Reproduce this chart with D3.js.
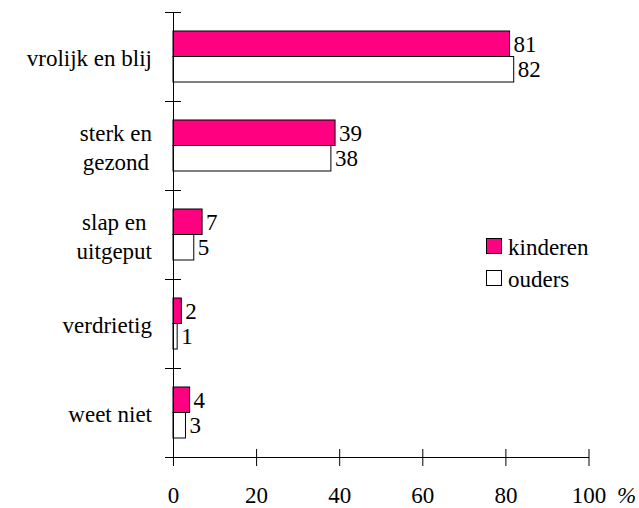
<!DOCTYPE html>
<html>
<head>
<meta charset="utf-8">
<script src="https://cdn.jsdelivr.net/npm/d3@7"></script>
<style>
  body { margin: 0; background: #fff; }
</style>
</head>
<body>
<div id="chart"></div>
<script>
let categories = ["vrolijk en blij", "sterk en\ngezond", "slap en\nuitgeput", "verdrietig", "weet niet"];
let series = ["kinderen", "ouders"];
let kinderen = [81, 39, 7, 2, 4];
let ouders = [82, 38, 5, 1, 3];
let xTicks = [0, 20, 40, 60, 80, 100];

let colors = { kinderen: "#ff0080", ouders: "#ffffff" };

let width = 639;
let height = 508;
let fontSize = 23;

// pick an installed serif face (measure against monospace fallback)
let candidates = ["Liberation Serif", "DejaVu Serif", "Noto Serif", "Times New Roman", "Tinos", "FreeSerif", "Nimbus Roman", "Times"];
let probe = document.createElement("canvas").getContext("2d");
function w(f) { probe.font = "40px " + f; return probe.measureText("vrolijk en blij 0123").width; }
let base = w("monospace");
let found = candidates.find((c) => w("'" + c + "', monospace") !== base);
let serif = found ? "'" + found + "', serif" : "serif";

let svg = d3.select("#chart").append("svg")
  .attr("width", width)
  .attr("height", height)
  .attr("font-family", serif);

let x = d3.scaleLinear().domain([0, 100]).range([173, 588.5]);

let y = d3.scaleBand().domain(categories).range([12, 457]).padding(0);

// two bars inside each band
let sub = d3.scaleBand().domain(series).range([0, y.bandwidth()])
  .paddingInner(0).paddingOuter(0.745);

let rows = categories.map((c, i) => ({ cat: c, kinderen: kinderen[i], ouders: ouders[i] }));

let g = svg.append("g");

rows.forEach((r) => {
  series.forEach((s) => {
    g.append("rect")
      .attr("x", x(0))
      .attr("y", y(r.cat) + sub(s))
      .attr("width", x(r[s]) - x(0))
      .attr("height", sub.bandwidth())
      .attr("fill", colors[s])
      .attr("stroke", "#000")
      .attr("stroke-width", 1);

    g.append("text")
      .attr("x", x(r[s]) + 4)
      .attr("y", y(r.cat) + sub(s) + sub.bandwidth() / 2 + 7.8)
      .attr("font-size", fontSize)
      .attr("font-family", serif)
      .text(r[s]);
  });
});

// y axis: ticks at band boundaries, crossing the line
let yIdx = d3.scaleLinear().domain([0, categories.length]).range(y.range());
let yAxis = svg.append("g")
  .attr("transform", "translate(" + x(0) + ",0)")
  .call(d3.axisLeft(yIdx).ticks(categories.length).tickFormat("").tickSizeInner(8).tickSizeOuter(0));
yAxis.selectAll(".tick line").attr("x2", -8).attr("x1", 8);
yAxis.select(".domain").attr("stroke", "#000");

// x axis
let xAxis = svg.append("g")
  .attr("transform", "translate(0," + y.range()[1] + ")")
  .call(d3.axisBottom(x).tickValues(xTicks).tickSizeInner(9).tickSizeOuter(0));
xAxis.attr("font-family", serif);
xAxis.selectAll(".tick line").attr("y1", -8);
xAxis.selectAll(".tick text")
  .attr("y", 46)
  .attr("dy", null)
  .attr("font-size", fontSize)
  .attr("font-family", serif);
xAxis.select(".domain").attr("stroke", "#000");

svg.append("text")
  .attr("x", 617)
  .attr("y", y.range()[1] + 46)
  .attr("font-size", fontSize)
  .attr("font-style", "italic")
  .attr("font-family", serif)
  .text("%");

// category labels, multi-line centred on each other, right edge at 152
let lineH = 29;
categories.forEach((c) => {
  let lines = c.split("\n");
  let cy = y(c) + y.bandwidth() / 2 + 9.5;
  let t = svg.append("text")
    .attr("font-size", fontSize)
    .attr("font-family", serif)
    .attr("text-anchor", "middle");
  let spans = lines.map((l, i) => t.append("tspan")
    .attr("y", cy + (i - (lines.length - 1) / 2) * lineH)
    .text(l));
  let maxW = d3.max(spans, (s) => s.node().getComputedTextLength());
  spans.forEach((s) => s.attr("x", 152 - maxW / 2));
});

// legend
let legend = svg.append("g");
series.forEach((s, i) => {
  legend.append("rect")
    .attr("x", 486.5)
    .attr("y", 238.5 + i * 32)
    .attr("width", 15)
    .attr("height", 15)
    .attr("fill", colors[s])
    .attr("stroke", "#000");
  legend.append("text")
    .attr("x", 508)
    .attr("y", 255 + i * 32)
    .attr("font-size", fontSize)
    .attr("font-family", serif)
    .text(s);
});
</script>
</body>
</html>
